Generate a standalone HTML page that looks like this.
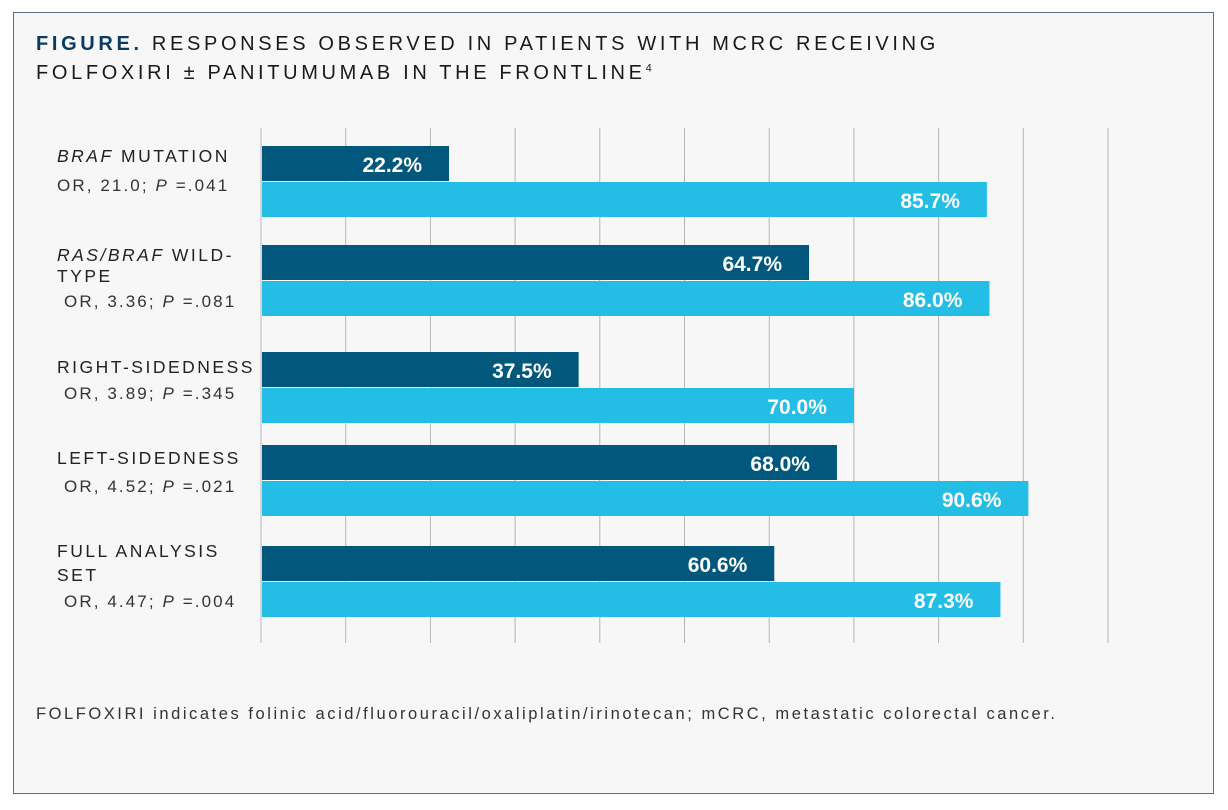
<!DOCTYPE html>
<html><head><meta charset="utf-8"><style>
body{margin:0;width:1228px;height:810px;background:#fff;font-family:"Liberation Sans",sans-serif;position:relative;overflow:hidden}
#frame{position:absolute;left:13px;top:12px;width:1201px;height:782px;border:1.5px solid #5a6f88;background:#f7f7f7;box-sizing:border-box}
.t{position:absolute;white-space:nowrap;color:#222;letter-spacing:2.2px;font-size:18px}
.title{font-size:20px;letter-spacing:3.65px;color:#1a1a1a}
.lbl{font-size:17.5px;letter-spacing:2.5px;color:#222}
.or{font-size:17px;letter-spacing:2.1px;color:#333}
</style></head><body>
<div id="frame"></div>
<div class="t title" style="left:36px;top:33px"><span style="color:#0b3a63;font-weight:bold">FIGURE.</span> RESPONSES OBSERVED IN PATIENTS WITH MCRC RECEIVING</div>
<div class="t title" style="left:36px;top:62px">FOLFOXIRI ± PANITUMUMAB IN THE FRONTLINE<sup style="font-size:11px">4</sup></div>

<div class="t lbl" style="left:57px;top:146px"><i>BRAF</i> MUTATION</div>
<div class="t or" style="left:57px;top:176px">OR, 21.0; <i>P</i> =.041</div>
<div class="t lbl" style="left:57px;top:245px"><i>RAS/BRAF</i> WILD-</div>
<div class="t lbl" style="left:57px;top:266px">TYPE</div>
<div class="t or" style="left:64px;top:292px">OR, 3.36; <i>P</i> =.081</div>
<div class="t lbl" style="left:57px;top:357px">RIGHT-SIDEDNESS</div>
<div class="t or" style="left:64px;top:384px">OR, 3.89; <i>P</i> =.345</div>
<div class="t lbl" style="left:57px;top:448px">LEFT-SIDEDNESS</div>
<div class="t or" style="left:64px;top:477px">OR, 4.52; <i>P</i> =.021</div>
<div class="t lbl" style="left:57px;top:541px">FULL ANALYSIS</div>
<div class="t lbl" style="left:57px;top:565px">SET</div>
<div class="t or" style="left:64px;top:592px">OR, 4.47; <i>P</i> =.004</div>

<svg id="chart" width="1228" height="810" style="position:absolute;left:0;top:0"></svg>

<div class="t" style="left:36px;top:705px;font-size:16.5px;letter-spacing:2.55px;color:#333">FOLFOXIRI indicates folinic acid/fluorouracil/oxaliplatin/irinotecan; mCRC, metastatic colorectal cancer.</div>

<script>
const categories=["BRAF mutation","RAS/BRAF wild-type","Right-sidedness","Left-sidedness","Full analysis set"];
const seriesA=[22.2,64.7,37.5,68.0,60.6];
const seriesB=[85.7,86.0,70.0,90.6,87.3];
const ticks=[0,10,20,30,40,50,60,70,80,90,100];
const groupTops=[146,245,352,445,546];
const NS="http://www.w3.org/2000/svg";
const svg=document.getElementById('chart');
const x0=261,x100=1108;
const xs=v=>x0+(x100-x0)*v/100;
function mk(t,a){const e=document.createElementNS(NS,t);for(const k in a)e.setAttribute(k,a[k]);svg.appendChild(e);return e;}
ticks.forEach(t=>{
 const l=mk('line',{x1:xs(t),x2:xs(t),y1:128,y2:643,stroke:'#b5b5b5','stroke-width':1});
 
 
});
categories.forEach((c,i)=>{
 const y=groupTops[i];
 [[seriesA[i],'#01587c',y],[seriesB[i],'#23bde6',y+36]].forEach(([v,col,yy],j)=>{
  const r=mk('rect',{x:x0+1,y:yy,width:xs(v)-x0-1,height:35,fill:col});
  
  
  const t=mk('text',{x:xs(v)-27,y:yy+26,'text-anchor':'end',fill:'#fff','font-size':21,'font-weight':'bold','font-family':'Liberation Sans, sans-serif'});
  t.textContent=v.toFixed(1)+'%';
  
  
 });
});
</script>
</body></html>
